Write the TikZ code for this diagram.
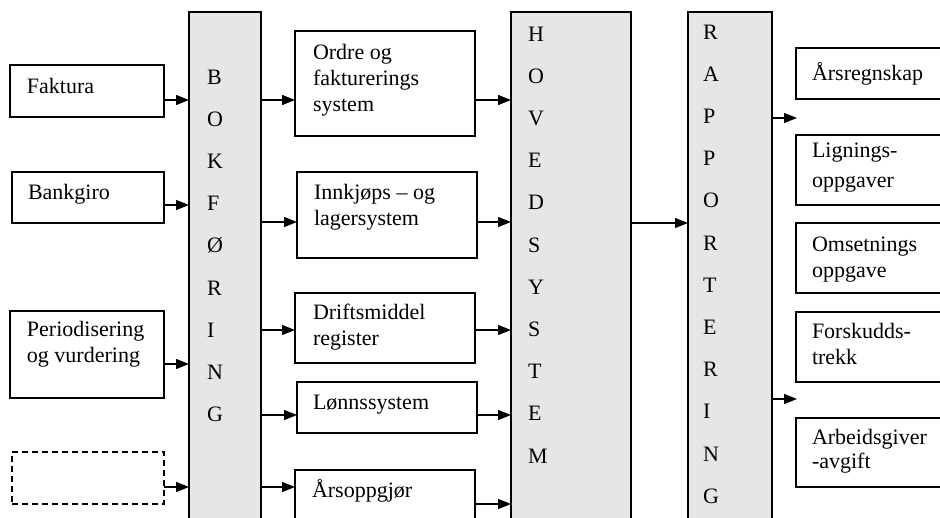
\documentclass[tikz,border=0pt]{standalone}
\usepackage{fontspec}
\setmainfont{Liberation Serif}
\usetikzlibrary{arrows.meta}
\tikzset{
  x=1pt, y=-1pt,
  box/.style={draw, line width=1.3pt, fill=white, inner sep=0pt, outer sep=0pt, anchor=north west},
  bar/.style={box, fill=barfill},
  dbox/.style={box, dash pattern=on 6pt off 4pt},
  txt/.style={inner sep=0pt, outer sep=0pt, anchor=base west, font=\fontsize{22}{26}\selectfont},
  btxt/.style={inner sep=0pt, outer sep=0pt, anchor=base west, font=\fontsize{22}{42.2}\selectfont},
  arr/.style={line width=1.3pt, -{Triangle[length=13pt,width=10pt]}},
}
\definecolor{barfill}{HTML}{E6E6E6}
\begin{document}
\begin{tikzpicture}
\useasboundingbox (0,0) rectangle (940,517);
\clip (0,0) rectangle (940,517);
% left input boxes
\node[box, minimum width=154pt, minimum height=52pt] (fak) at (10,65) {};
\node[box, minimum width=152pt, minimum height=51pt] (bank) at (12,172) {};
\node[box, minimum width=154pt, minimum height=87pt] (per) at (10,311) {};
\node[dbox, minimum width=152pt, minimum height=52pt] (dsh) at (12,452) {};
% bars
\node[bar, minimum width=72pt, minimum height=540pt] (bok) at (189,12) {};
\node[bar, minimum width=120pt, minimum height=540pt] (hov) at (511,12) {};
\node[bar, minimum width=84pt, minimum height=540pt] (rap) at (688,12) {};
% middle boxes
\node[box, minimum width=180pt, minimum height=105pt] (ord) at (295,31) {};
\node[box, minimum width=180pt, minimum height=86pt] (inn) at (297,172) {};
\node[box, minimum width=180pt, minimum height=70pt] (dri) at (295,293) {};
\node[box, minimum width=180pt, minimum height=51pt] (lon) at (297,382) {};
\node[box, minimum width=180pt, minimum height=60pt] (ars) at (295,470) {};
% right boxes
\node[box, minimum width=170pt, minimum height=51pt] (rsk) at (796,48) {};
\node[box, minimum width=170pt, minimum height=70pt] (lig) at (796,135) {};
\node[box, minimum width=170pt, minimum height=70pt] (oms) at (796,223) {};
\node[box, minimum width=170pt, minimum height=70pt] (fsk) at (796,312) {};
\node[box, minimum width=170pt, minimum height=69pt] (arb) at (796,418) {};
% texts
\node[txt] (tfak) at (27,93) {Faktura};
\node[txt] (tbank) at (28,199) {Bankgiro};
\node[txt] (tper) at (27,336) {\vtop{\hbox{Periodisering}\hbox{og vurdering}}};
\node[txt] (tord) at (313,59) {\vtop{\hbox{Ordre og}\hbox{fakturerings}\hbox{system}}};
\node[txt] (tinn) at (314,199) {\vtop{\hbox{Innkjøps – og}\hbox{lagersystem}}};
\node[txt] (tdri) at (313,319) {\vtop{\hbox{Driftsmiddel}\hbox{register}}};
\node[txt] (tlon) at (313,409) {Lønnssystem};
\node[txt] (tars) at (312,497) {Årsoppgjør};
\node[txt] (trsk) at (812,80) {Årsregnskap};
\node[txt] (tlig) at (812,157) {{\baselineskip=30pt\vtop{\hbox{Lignings-}\hbox{oppgaver}}}};
\node[txt] (toms) at (812,251) {\vtop{\hbox{Omsetnings}\hbox{oppgave}}};
\node[txt] (tfsk) at (812,338) {\vtop{\hbox{Forskudds-}\hbox{trekk}}};
\node[txt] (tarb) at (812,444) {{\baselineskip=24pt\vtop{\hbox{Arbeidsgiver}\hbox{-avgift}}}};
% bar letters
\node[btxt] (lbok) at (207,84) {\vtop{\hbox{B}\hbox{O}\hbox{K}\hbox{F}\hbox{Ø}\hbox{R}\hbox{I}\hbox{N}\hbox{G}}};
\node[btxt] (lhov) at (528,41) {\vtop{\hbox{H}\hbox{O}\hbox{V}\hbox{E}\hbox{D}\hbox{S}\hbox{Y}\hbox{S}\hbox{T}\hbox{E}\hbox{M}}};
\node[btxt] (lrap) at (703,39) {\vtop{\hbox{R}\hbox{A}\hbox{P}\hbox{P}\hbox{O}\hbox{R}\hbox{T}\hbox{E}\hbox{R}\hbox{I}\hbox{N}\hbox{G}}};
% connectors: inputs to Bokføring
\draw[arr] (fak.east |- 0,100) -- (bok.west |- 0,100);
\draw[arr] (bank.east |- 0,205) -- (bok.west |- 0,205);
\draw[arr] (per.east |- 0,364) -- (bok.west |- 0,364);
\draw[arr] (dsh.east |- 0,487) -- (bok.west |- 0,487);
% Bokføring to subsystems
\draw[arr] (bok.east |- 0,100) -- (ord.west |- 0,100);
\draw[arr] (bok.east |- 0,222) -- (inn.west |- 0,222);
\draw[arr] (bok.east |- 0,330) -- (dri.west |- 0,330);
\draw[arr] (bok.east |- 0,415) -- (lon.west |- 0,415);
\draw[arr] (bok.east |- 0,487) -- (ars.west |- 0,487);
% subsystems to Hovedsystem
\draw[arr] (ord.east |- 0,100) -- (hov.west |- 0,100);
\draw[arr] (inn.east |- 0,222) -- (hov.west |- 0,222);
\draw[arr] (dri.east |- 0,330) -- (hov.west |- 0,330);
\draw[arr] (lon.east |- 0,415) -- (hov.west |- 0,415);
\draw[arr] (ars.east |- 0,504) -- (hov.west |- 0,504);
% Hovedsystem to Rapportering
\draw[arr] (hov.east |- 0,223) -- (rap.west |- 0,223);
% Rapportering outputs
\coordinate (o1) at (797,118);
\coordinate (o2) at (797,399);
\draw[arr] (rap.east |- o1) -- (o1);
\draw[arr] (rap.east |- o2) -- (o2);
\end{tikzpicture}
\end{document}
